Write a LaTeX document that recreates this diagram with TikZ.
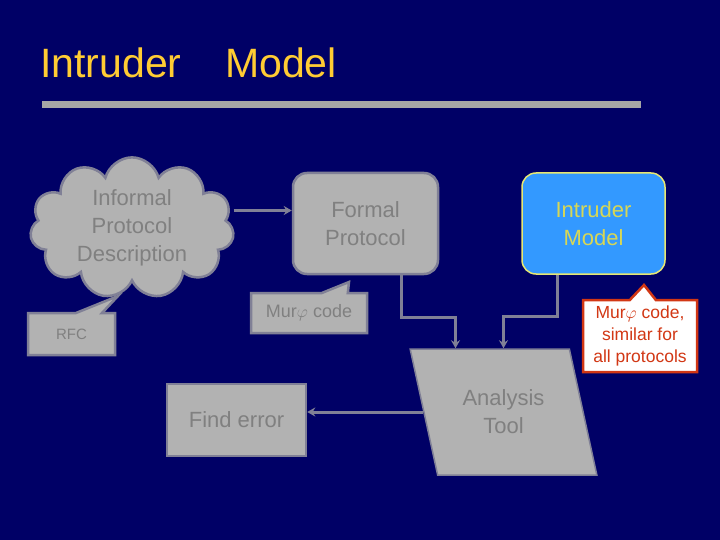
\documentclass[tikz,border=0pt]{standalone}
\usepackage{fontspec}
\setmainfont{Liberation Sans}
\usetikzlibrary{arrows.meta,positioning,shapes.geometric,shapes.symbols,shapes.callouts}
\definecolor{bg}{RGB}{0,0,102}
\definecolor{gold}{RGB}{255,204,51}
\definecolor{boxgray}{RGB}{178,178,178}
\definecolor{edge}{RGB}{128,128,150}
\definecolor{txt}{RGB}{128,128,128}
\definecolor{sky}{RGB}{51,153,255}
\definecolor{skytxt}{RGB}{225,225,80}
\definecolor{note}{RGB}{210,55,20}

\begin{document}
\begin{tikzpicture}[x=1pt,y=-1pt,>={Stealth[length=8pt,width=9pt]}]
\tikzset{gbox/.style={draw=edge,fill=boxgray,line width=2.5pt,text=txt,align=center,font=\fontsize{22}{28}\selectfont},
  rbox/.style={gbox,rounded corners=14pt},
  tag/.style={gbox,rectangle callout,callout pointer width=26pt,font=\fontsize{15}{19}\selectfont},
  conn/.style={->,draw=edge,line width=3pt}}
% background and title
\fill[bg] (0,0) rectangle (720,540);
\useasboundingbox (0,0) rectangle (720,540);
\node[anchor=base west,inner sep=0,text=gold,font=\fontsize{41}{48}\selectfont] (t1) at (40,78) {Intruder};
\node[anchor=base west,inner sep=0,text=gold,font=\fontsize{41}{48}\selectfont] (t2) at (225,78) {Model};
\fill[gray!70] (42,101) rectangle (641,108);
% boxes
\node[gbox,cloud,cloud puffs=11,aspect=1.6,minimum width=204pt,minimum height=134pt,inner sep=0pt] (ipd) at (132,228) {Informal\\Protocol\\Description};
\node[rbox,minimum width=145pt,minimum height=101pt] (fp) at (365.5,223.5) {Formal\\Protocol};
\node[rbox,fill=sky,draw=skytxt!80!white,text=skytxt!90!gray,line width=1.5pt,minimum width=143pt,minimum height=101pt] (im) at (593.5,223.5) {Intruder\\Model};
\node[gbox,trapezium,trapezium left angle=110,trapezium right angle=70,trapezium stretches=true,minimum width=187pt,minimum height=126pt,line width=1.5pt] (at) at (503.5,412) {Analysis\\Tool};
\node[gbox,minimum width=139pt,minimum height=72pt] (fe) at (236.5,420) {Find error};
% notes
\node[tag,minimum width=87pt,minimum height=42pt,callout absolute pointer={(118,296)}] (rfc) at (71.5,334) {RFC};
\node[tag,minimum width=116pt,minimum height=40pt,font=\fontsize{18}{22}\selectfont,callout absolute pointer={(349,282)}] (mc) at (309,313) {Mur$\varphi$ code};
\node[tag,fill=white,draw=note,text=note,line width=2.5pt,minimum width=114pt,minimum height=72pt,inner sep=2pt,font=\fontsize{17.5}{22}\selectfont,callout absolute pointer={(644,285)}] (mn) at (640,336) {Mur$\varphi$ code,\\similar for\\all protocols};
% connectors
\draw[conn] ([yshift=13pt]fp.west -| ipd.east) -- ([yshift=13pt]fp.west);
\draw[conn] ([xshift=36pt]fp.south) -- ++(0,42) -| ([xshift=-48pt]at.north);
\draw[conn] ([xshift=-36pt]im.south) -- ++(0,42) -| (at.north);
\draw[conn] (at.west) -- (at.west -| fe.east);
\end{tikzpicture}
\end{document}
